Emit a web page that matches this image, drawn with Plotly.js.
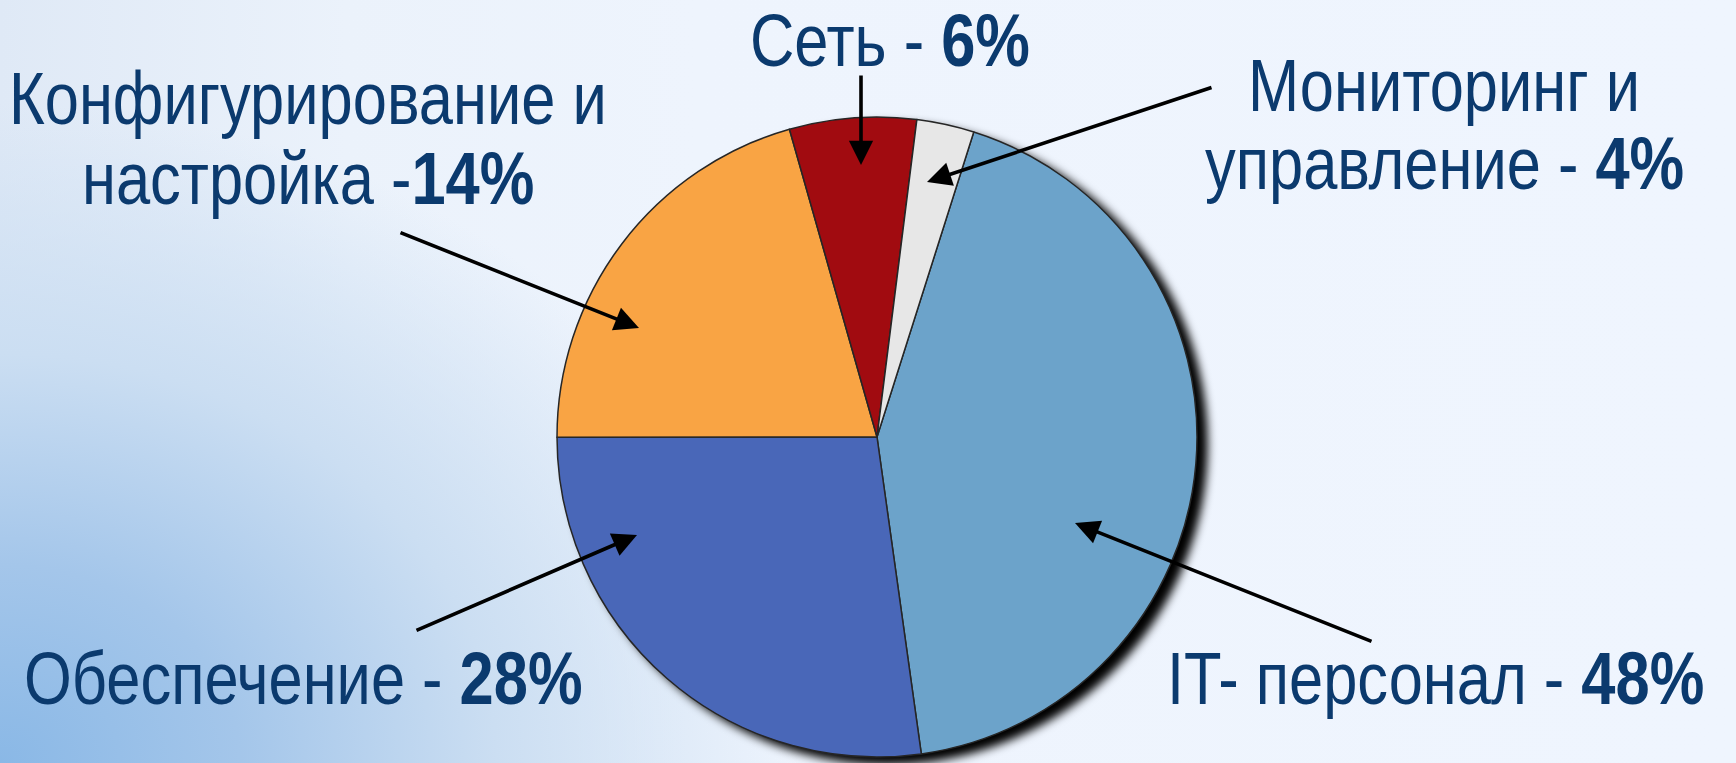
<!DOCTYPE html>
<html><head><meta charset="utf-8">
<script src="https://cdn.plot.ly/plotly-3.0.1.min.js"></script>
<style>
html,body{margin:0;padding:0;width:1736px;height:763px;overflow:hidden;}
body{
 background:
  radial-gradient(ellipse 800px 660px at 0px 763px, #8ab8e6 0%, #a4c6ea 30%, #cbdef2 62%, rgba(238,244,253,0) 100%),
  linear-gradient(90deg, #dfe9f6 0%, #ebf2fb 20%, #eef4fd 40%, #eff5fe 100%);
}
#chart{width:1736px;height:763px;}
.annotation-text{transform-box:fill-box;transform-origin:center;transform:scaleX(0.83);}
</style></head><body><div id="chart"></div>
<script>
// ---- data ----
const categories = ['IT- персонал', 'Обеспечение', 'Конфигурирование и настройка', 'Сеть', 'Мониторинг и управление'];
const sliceShares = [42.9, 27.2, 20.6, 6.4, 2.9];          // slice sizes as drawn
const labelPercents = ['48%', '28%', '14%', '6%', '4%'];   // percentages printed in labels
const labelLine1 = ['IT- персонал - ', 'Обеспечение - ', 'Конфигурирование и', 'Сеть - ', 'Мониторинг и'];
const labelLine2 = [null, null, 'настройка -', null, 'управление - '];

// ---- styles / layout constants ----
const W = 1736, H = 763;
const colors = ['#6ca3ca', '#4967b8', '#f9a444', '#a10b10', '#e7e7e7'];
const FONT = {family: '"Liberation Sans Narrow", "Arial Narrow", "Liberation Sans", Arial, sans-serif', size: 74, color: '#0b3a6e'};
// label line centres [x, baselineY] per category (line1, line2)
const labelPos = [
  [[1435, 704]],
  [[303, 704]],
  [[308, 124], [308, 204]],
  [[890, 66]],
  [[1444, 111], [1444, 189]]
];
// arrows: [tailX, tailY, headX, headY]
const arrows = [
  [1373, 642, 1075, 523],
  [415, 631, 637, 535],
  [399, 232, 639, 328],
  [861, 74, 861, 165],
  [1213, 87, 927, 182]
];

const annotations = [];
categories.forEach((c, i) => {
  const lines = [];
  if (labelLine2[i] === null) lines.push(labelLine1[i] + '<b>' + labelPercents[i] + '</b>');
  else { lines.push(labelLine1[i]); lines.push(labelLine2[i] + '<b>' + labelPercents[i] + '</b>'); }
  lines.forEach((t, k) => {
    const p = labelPos[i][k];
    annotations.push({
      xref: 'paper', yref: 'paper', x: p[0] / W, y: 1 - (p[1] - 0.35 * FONT.size) / H,
      xanchor: 'center', yanchor: 'middle', text: t, showarrow: false, font: FONT, borderpad: 0
    });
  });
  const a = arrows[i];
  annotations.push({
    xref: 'paper', yref: 'paper', x: a[2] / W, y: 1 - a[3] / H,
    ax: a[0] - a[2], ay: a[1] - a[3], text: '', showarrow: true,
    arrowhead: 2, arrowsize: 1.35, arrowwidth: 3.6, arrowcolor: '#000', standoff: 0
  });
});

const trace = {
  type: 'pie', labels: categories, values: sliceShares, sort: false,
  direction: 'clockwise', rotation: 17.6,
  marker: {colors: colors, line: {color: '#262626', width: 1.5}},
  textinfo: 'none', hoverinfo: 'none', showlegend: false,
  domain: {x: [557 / W, 1197 / W], y: [1 - 757 / H, 1 - 117 / H]}
};

const layout = {
  width: W, height: H, margin: {l: 0, r: 0, t: 0, b: 0},
  paper_bgcolor: 'rgba(0,0,0,0)', plot_bgcolor: 'rgba(0,0,0,0)',
  showlegend: false, annotations: annotations
};

Plotly.newPlot('chart', [trace], layout, {staticPlot: true, displayModeBar: false}).then(() => {
  const pl = document.querySelector('.pielayer');
  if (pl) pl.style.filter = 'drop-shadow(10px 7px 5px rgba(0,0,0,1))';
});
</script></body></html>
